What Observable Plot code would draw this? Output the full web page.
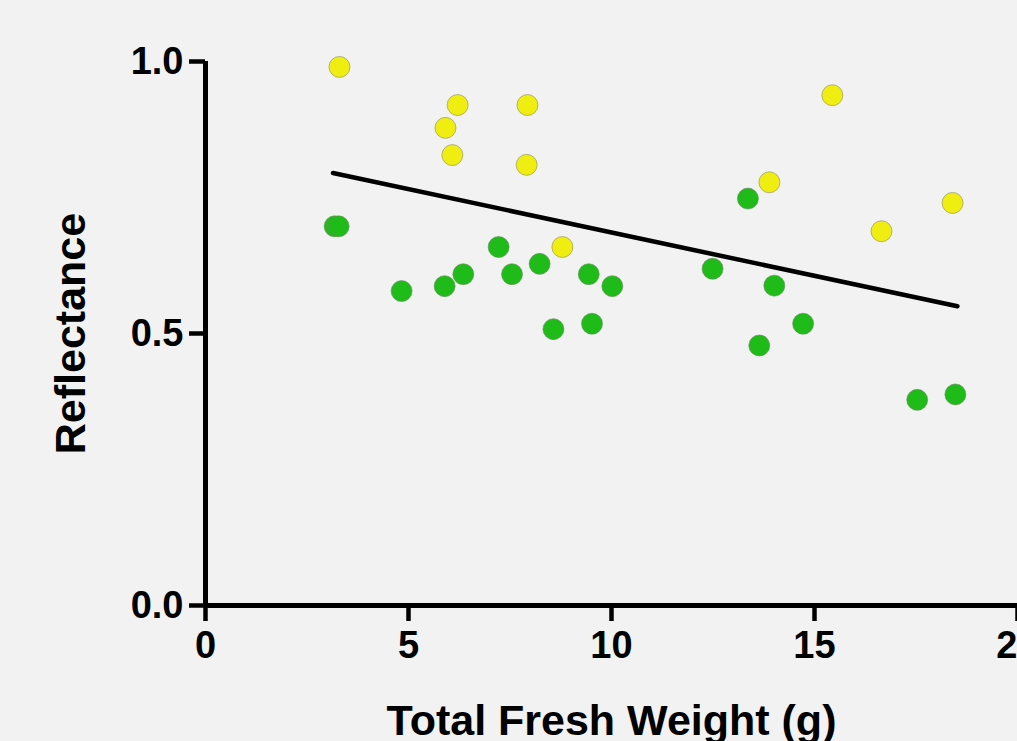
<!DOCTYPE html>
<html><head><meta charset="utf-8">
<script src="https://cdn.jsdelivr.net/npm/d3@7"></script>
<script src="https://cdn.jsdelivr.net/npm/@observablehq/plot@0.6"></script>
<style>html,body{margin:0;padding:0;background:#f2f2f2;overflow:hidden}</style>
</head><body><div id="chart"></div>
<script>
// Yellow group
const yellowX = [3.30, 5.91, 6.21, 6.08, 7.93, 7.91, 8.79, 15.44, 13.89, 16.65, 18.40];
const yellowY = [0.990, 0.878, 0.920, 0.828, 0.920, 0.810, 0.659, 0.938, 0.778, 0.688, 0.740];
// Green group
const greenX = [3.18, 3.28, 4.83, 5.89, 6.35, 7.22, 7.55, 8.23, 9.44, 10.02, 8.57, 9.52, 13.36, 12.49, 14.01, 14.72, 13.64, 17.53, 18.47];
const greenY = [0.697, 0.697, 0.578, 0.587, 0.609, 0.659, 0.609, 0.628, 0.609, 0.587, 0.508, 0.518, 0.748, 0.619, 0.588, 0.518, 0.478, 0.378, 0.388];
// Fitted line endpoints
const fitX = [3.14, 18.52];
const fitY = [0.795, 0.550];
// Ticks
const xTicks = [0, 5, 10, 15, 20];
const yTicks = [0, 0.5, 1.0];
const xLabel = "Total Fresh Weight (g)";
const yLabel = "Reflectance";

const yellowPts = yellowX.map((x, i) => ({x, y: yellowY[i]}));
const greenPts = greenX.map((x, i) => ({x, y: greenY[i]}));
const fit = fitX.map((x, i) => ({x, y: fitY[i]}));

const chart = Plot.plot({
  width: 1017, height: 741,
  marginLeft: 205, marginRight: 0, marginTop: 61, marginBottom: 136,
  style: {background: "#f2f2f2", fontFamily: "'Liberation Sans', Arial, sans-serif", fontWeight: "bold", color: "#000", overflow: "hidden"},
  x: {domain: [0, 20]},
  y: {domain: [0, 1]},
  marks: [
    Plot.axisY(yTicks, {tickSize: 16, strokeWidth: 4.5, fontSize: 38, tickPadding: 6, tickFormat: d3.format(".1f"), label: null}),
    Plot.axisX(xTicks, {tickSize: 16, strokeWidth: 4.5, fontSize: 38, tickPadding: 10, tickFormat: d3.format("d"), label: null}),
    Plot.ruleX([0], {strokeWidth: 5}),
    Plot.ruleY([0], {strokeWidth: 5}),
    Plot.line(fit, {x: "x", y: "y", strokeWidth: 4.5, strokeLinecap: "round"}),
    Plot.dot(greenPts, {x: "x", y: "y", fill: "#1fbb18", r: 10.5, stroke: "#6a8a60", strokeWidth: 0.6}),
    Plot.dot(yellowPts, {x: "x", y: "y", fill: "#f0ed10", r: 10.5, stroke: "#8a8a60", strokeWidth: 0.6}),
    Plot.text([xLabel], {frameAnchor: "bottom", dy: 129, fontSize: 43, fontWeight: "bold"}),
    Plot.text([yLabel], {frameAnchor: "left", textAnchor: "middle", dx: -134, rotate: -90, fontSize: 43, fontWeight: "bold"})
  ]
});
document.getElementById("chart").appendChild(chart);
</script>
</body></html>
